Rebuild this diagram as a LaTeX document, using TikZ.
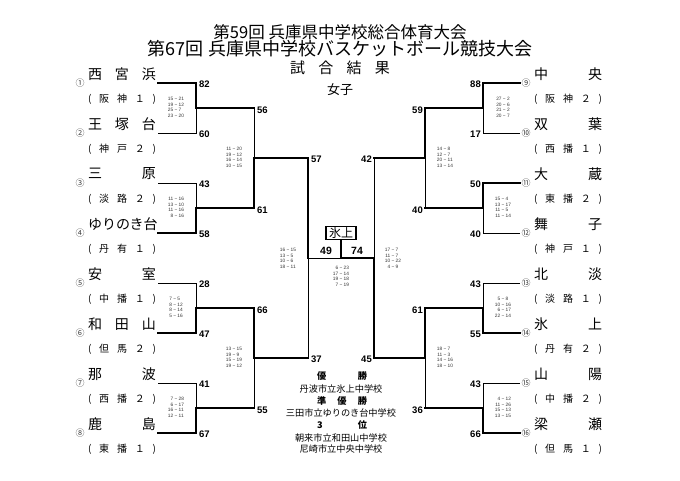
\documentclass[tikz,border=0pt]{standalone}
\usepackage{fontspec}
\setmainfont{Noto Sans CJK JP}
\newfontfamily\numfont{Liberation Sans}

\newcommand{\spread}[2]{\makebox[#1][s]{#2}}
\newcommand{\games}[4]{\begin{tabular}{@{}r@{\ −\ }l@{}}#1\\#2\\#3\\#4\end{tabular}}

\begin{document}
\begin{tikzpicture}[x=1pt, y=-1pt]

\tikzset{every node/.style={inner sep=0pt},
  win/.style={line width=2.2pt, line cap=rect},
  lose/.style={line width=0.8pt},
  team/.style={font=\fontsize{14}{14}\selectfont},
  area/.style={font=\fontsize{10}{10}\selectfont},
  seed/.style={font=\fontsize{9}{9}\selectfont, text=black!75},
  pts/.style={font=\numfont\bfseries\fontsize{9.5}{9.5}\selectfont},
  sets/.style={font=\numfont\fontsize{4.8}{5.4}\selectfont, text=black!80},
  rank/.style={font=\bfseries\fontsize{9.2}{9.2}\selectfont},
  school/.style={font=\fontsize{9.2}{9.2}\selectfont}}

\useasboundingbox (0,0) rectangle (680,481);

\node[font=\fontsize{16.5}{16.5}\selectfont] (title1) at (340,32) {第59回 兵庫県中学校総合体育大会};
\node[font=\fontsize{18}{18}\selectfont] (title2) at (340,49) {第67回 兵庫県中学校バスケットボール競技大会};
\node[font=\fontsize{15}{15}\selectfont] (title3) at (340,68) {\spread{100pt}{試\hfill 合\hfill 結\hfill 果}};
\node[font=\fontsize{13}{13}\selectfont] (girls) at (340,90) {女子};

\node[team] (a1) at (122,74) {\spread{68pt}{西\hfill 宮\hfill 浜}};
\node[area] (b1) at (122,99) {\spread{68pt}{(\hfill 阪\hfill 神\hfill １\hfill )}};
\node[team] (a2) at (122,124) {\spread{68pt}{王\hfill 塚\hfill 台}};
\node[area] (b2) at (122,149) {\spread{68pt}{(\hfill 神\hfill 戸\hfill ２\hfill )}};
\node[team] (a3) at (122,174) {\spread{68pt}{三\hfill 原}};
\node[area] (b3) at (122,199) {\spread{68pt}{(\hfill 淡\hfill 路\hfill ２\hfill )}};
\node[team] (a4) at (122,224) {\spread{68pt}{ゆりのき台}};
\node[area] (b4) at (122,249) {\spread{68pt}{(\hfill 丹\hfill 有\hfill １\hfill )}};
\node[team] (a5) at (122,274) {\spread{68pt}{安\hfill 室}};
\node[area] (b5) at (122,299) {\spread{68pt}{(\hfill 中\hfill 播\hfill １\hfill )}};
\node[team] (a6) at (122,324) {\spread{68pt}{和\hfill 田\hfill 山}};
\node[area] (b6) at (122,349) {\spread{68pt}{(\hfill 但\hfill 馬\hfill ２\hfill )}};
\node[team] (a7) at (122,374) {\spread{68pt}{那\hfill 波}};
\node[area] (b7) at (122,399) {\spread{68pt}{(\hfill 西\hfill 播\hfill ２\hfill )}};
\node[team] (a8) at (122,424) {\spread{68pt}{鹿\hfill 島}};
\node[area] (b8) at (122,449) {\spread{68pt}{(\hfill 東\hfill 播\hfill １\hfill )}};

\node[team] (a9) at (568,74) {\spread{68pt}{中\hfill 央}};
\node[area] (b9) at (568,99) {\spread{68pt}{(\hfill 阪\hfill 神\hfill ２\hfill )}};
\node[team] (a10) at (568,124) {\spread{68pt}{双\hfill 葉}};
\node[area] (b10) at (568,149) {\spread{68pt}{(\hfill 西\hfill 播\hfill １\hfill )}};
\node[team] (a11) at (568,174) {\spread{68pt}{大\hfill 蔵}};
\node[area] (b11) at (568,199) {\spread{68pt}{(\hfill 東\hfill 播\hfill ２\hfill )}};
\node[team] (a12) at (568,224) {\spread{68pt}{舞\hfill 子}};
\node[area] (b12) at (568,249) {\spread{68pt}{(\hfill 神\hfill 戸\hfill １\hfill )}};
\node[team] (a13) at (568,274) {\spread{68pt}{北\hfill 淡}};
\node[area] (b13) at (568,299) {\spread{68pt}{(\hfill 淡\hfill 路\hfill １\hfill )}};
\node[team] (a14) at (568,324) {\spread{68pt}{氷\hfill 上}};
\node[area] (b14) at (568,349) {\spread{68pt}{(\hfill 丹\hfill 有\hfill ２\hfill )}};
\node[team] (a15) at (568,374) {\spread{68pt}{山\hfill 陽}};
\node[area] (b15) at (568,399) {\spread{68pt}{(\hfill 中\hfill 播\hfill ２\hfill )}};
\node[team] (a16) at (568,424) {\spread{68pt}{梁\hfill 瀬}};
\node[area] (b16) at (568,449) {\spread{68pt}{(\hfill 但\hfill 馬\hfill １\hfill )}};

\node[seed] (c1) at (80,83) {①};
\node[seed] (c2) at (80,133) {②};
\node[seed] (c3) at (80,183) {③};
\node[seed] (c4) at (80,233) {④};
\node[seed] (c5) at (80,283) {⑤};
\node[seed] (c6) at (80,333) {⑥};
\node[seed] (c7) at (80,383) {⑦};
\node[seed] (c8) at (80,433) {⑧};
\node[seed] (c9) at (526,83) {⑨};
\node[seed] (c10) at (526,133) {⑩};
\node[seed] (c11) at (526,183) {⑪};
\node[seed] (c12) at (526,233) {⑫};
\node[seed] (c13) at (526,283) {⑬};
\node[seed] (c14) at (526,333) {⑭};
\node[seed] (c15) at (526,383) {⑮};
\node[seed] (c16) at (526,433) {⑯};

\coordinate (t1) at (158,83);
\coordinate (t2) at (158,133);
\coordinate (t3) at (158,183);
\coordinate (t4) at (158,233);
\coordinate (t5) at (158,283);
\coordinate (t6) at (158,333);
\coordinate (t7) at (158,383);
\coordinate (t8) at (158,433);
\coordinate (r1) at (196,83);
\coordinate (r2) at (196,133);
\coordinate (r3) at (196,183);
\coordinate (r4) at (196,233);
\coordinate (r5) at (196,283);
\coordinate (r6) at (196,333);
\coordinate (r7) at (196,383);
\coordinate (r8) at (196,433);
\coordinate (m1) at (196,108);
\coordinate (m2) at (196,208);
\coordinate (m3) at (196,308);
\coordinate (m4) at (196,408);
\coordinate (n1) at (254,108);
\coordinate (n2) at (254,208);
\coordinate (n3) at (254,308);
\coordinate (n4) at (254,408);
\coordinate (q1) at (254,158);
\coordinate (q2) at (254,358);
\coordinate (p1) at (308,158);
\coordinate (p2) at (308,358);
\coordinate (f1) at (308,258);
\coordinate (fc) at (341,258);
\coordinate (f2) at (374,258);
\coordinate (g1) at (374,158);
\coordinate (g2) at (374,358);
\coordinate (w1) at (425,158);
\coordinate (w2) at (425,358);
\coordinate (o1) at (425,108);
\coordinate (o2) at (425,208);
\coordinate (o3) at (425,308);
\coordinate (o4) at (425,408);
\coordinate (k1) at (483,108);
\coordinate (k2) at (483,208);
\coordinate (k3) at (483,308);
\coordinate (k4) at (483,408);
\coordinate (s9) at (483,83);
\coordinate (s10) at (483,133);
\coordinate (s11) at (483,183);
\coordinate (s12) at (483,233);
\coordinate (s13) at (483,283);
\coordinate (s14) at (483,333);
\coordinate (s15) at (483,383);
\coordinate (s16) at (483,433);
\coordinate (u9) at (520,83);
\coordinate (u10) at (520,133);
\coordinate (u11) at (520,183);
\coordinate (u12) at (520,233);
\coordinate (u13) at (520,283);
\coordinate (u14) at (520,333);
\coordinate (u15) at (520,383);
\coordinate (u16) at (520,433);

\node[draw, line width=1.6pt, inner xsep=3pt, inner ysep=1pt, font=\fontsize{12}{12}\selectfont] (champ) at (341,233) {氷上};

\draw[lose] (t2) -- (r2) -- (m1);
\draw[lose] (t3) -- (r3) -- (m2);
\draw[lose] (t5) -- (r5) -- (m3);
\draw[lose] (t7) -- (r7) -- (m4);
\draw[lose] (n1) -- (q1);
\draw[lose] (n4) -- (q2);
\draw[lose] (p2) -- (f1) -- (fc);
\draw[win] (t1) -- (r1) -- (m1) -- (n1);
\draw[win] (t4) -- (r4) -- (m2) -- (n2) -- (q1) -- (p1) -- (f1);
\draw[win] (t6) -- (r6) -- (m3) -- (n3) -- (q2) -- (p2);
\draw[win] (t8) -- (r8) -- (m4) -- (n4);

\draw[lose] (u10) -- (s10) -- (k1);
\draw[lose] (u12) -- (s12) -- (k2);
\draw[lose] (u13) -- (s13) -- (k3);
\draw[lose] (u15) -- (s15) -- (k4);
\draw[lose] (o2) -- (w1);
\draw[lose] (o4) -- (w2);
\draw[lose] (g1) -- (f2);
\draw[win] (u9) -- (s9) -- (k1) -- (o1) -- (w1) -- (g1);
\draw[win] (u11) -- (s11) -- (k2) -- (o2);
\draw[win] (u14) -- (s14) -- (k3) -- (o3) -- (w2) -- (g2) -- (f2) -- (fc) -- (champ.south);
\draw[win] (u16) -- (s16) -- (k4) -- (o4);

\node[pts, anchor=west] (x1) at (199,84) {82};
\node[pts, anchor=west] (x2) at (199,134) {60};
\node[pts, anchor=west] (x3) at (199,184) {43};
\node[pts, anchor=west] (x4) at (199,234) {58};
\node[pts, anchor=west] (x5) at (199,284) {28};
\node[pts, anchor=west] (x6) at (199,334) {47};
\node[pts, anchor=west] (x7) at (199,384) {41};
\node[pts, anchor=west] (x8) at (199,434) {67};
\node[pts, anchor=west] (y1) at (257,110) {56};
\node[pts, anchor=west] (y2) at (257,210) {61};
\node[pts, anchor=west] (y3) at (257,310) {66};
\node[pts, anchor=west] (y4) at (257,410) {55};
\node[pts, anchor=west] (z1) at (311,159) {57};
\node[pts, anchor=west] (z2) at (311,359) {37};

\node[pts, anchor=east] (x9) at (481,84) {88};
\node[pts, anchor=east] (x10) at (481,134) {17};
\node[pts, anchor=east] (x11) at (481,184) {50};
\node[pts, anchor=east] (x12) at (481,234) {40};
\node[pts, anchor=east] (x13) at (481,284) {43};
\node[pts, anchor=east] (x14) at (481,334) {55};
\node[pts, anchor=east] (x15) at (481,384) {43};
\node[pts, anchor=east] (x16) at (481,434) {66};
\node[pts, anchor=east] (y5) at (423,110) {59};
\node[pts, anchor=east] (y6) at (423,210) {40};
\node[pts, anchor=east] (y7) at (423,310) {61};
\node[pts, anchor=east] (y8) at (423,410) {36};
\node[pts, anchor=east] (z3) at (372,159) {42};
\node[pts, anchor=east] (z4) at (372,359) {45};

\node[pts, font=\numfont\bfseries\fontsize{10.5}{10.5}\selectfont] (v1) at (326,251) {49};
\node[pts, font=\numfont\bfseries\fontsize{10.5}{10.5}\selectfont] (v2) at (357,251) {74};

\node[sets] (e1) at (176,108) {\games{15&21}{19&12}{25&7}{23&20}};
\node[sets] (e2) at (176,208) {\games{11&16}{13&10}{11&16}{8&16}};
\node[sets] (e3) at (176,308) {\games{7&5}{8&12}{8&14}{5&16}};
\node[sets] (e4) at (176,408) {\games{7&28}{6&17}{16&11}{12&11}};
\node[sets] (e5) at (234,158) {\games{11&20}{19&12}{16&14}{10&15}};
\node[sets] (e6) at (234,358) {\games{13&15}{19&9}{15&19}{19&12}};
\node[sets] (e7) at (288,259) {\games{16&15}{13&5}{10&6}{18&11}};
\node[sets] (e8) at (503,108) {\games{27&2}{20&6}{21&2}{20&7}};
\node[sets] (e9) at (503,208) {\games{15&4}{13&17}{11&5}{11&14}};
\node[sets] (e10) at (503,308) {\games{5&8}{10&16}{6&17}{22&14}};
\node[sets] (e11) at (503,408) {\games{4&12}{11&26}{15&13}{13&15}};
\node[sets] (e12) at (445,158) {\games{14&8}{12&7}{20&11}{13&14}};
\node[sets] (e13) at (445,358) {\games{18&7}{11&3}{14&16}{18&10}};
\node[sets] (e14) at (393,259) {\games{17&7}{11&7}{10&22}{4&9}};
\node[sets] (e15) at (341,277) {\games{6&23}{17&14}{19&18}{7&19}};

\node[rank] (h1) at (342,376) {\spread{50pt}{優\hfill 勝}};
\node[school] (i1) at (341,389) {丹波市立氷上中学校};
\node[rank] (h2) at (342,401) {\spread{50pt}{準\hfill 優\hfill 勝}};
\node[school] (i2) at (341,413) {三田市立ゆりのき台中学校};
\node[rank] (h3) at (342,425) {\spread{50pt}{3\hfill 位}};
\node[school] (i3) at (341,438) {朝来市立和田山中学校};
\node[school] (i4) at (341,449) {尼崎市立中央中学校};
\end{tikzpicture}
\end{document}
